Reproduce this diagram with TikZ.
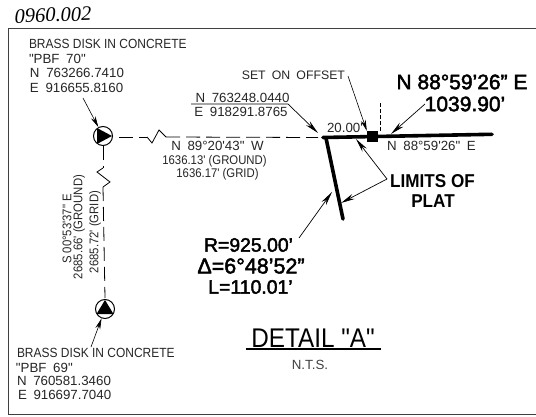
\documentclass[tikz,border=0pt]{standalone}
\usepackage{fontspec}
\setmainfont{Liberation Sans}
\newfontfamily\cad{Liberation Sans}[FakeStretch=0.9]
\newfontfamily\cadw{Liberation Sans}[WordSpace=1.8]
\newfontfamily\cadm{Liberation Sans}[FakeBold=2.2]
\newfontfamily\cadb{Liberation Sans Bold}[FakeStretch=0.92]
\newfontfamily\hand{Liberation Serif Italic}
\usetikzlibrary{arrows.meta}
\tikzset{
  x=1pt,y=-1pt,
  lab/.style={inner sep=0pt,outer sep=0pt,text=black!85,font=\cad\fontsize{13.3}{13}\selectfont},
  labsm/.style={lab,font=\cad\fontsize{12.6}{13}\selectfont},
  labw/.style={lab,font=\cadw\fontsize{13.3}{13}\selectfont},
  big/.style={inner sep=0pt,outer sep=0pt,font=\cadm\fontsize{21}{21}\selectfont},
  mid/.style={inner sep=0pt,outer sep=0pt,font=\cadm\fontsize{19.4}{20}\selectfont},
  heavy label/.style={inner sep=0pt,outer sep=0pt,font=\cadb\fontsize{18.6}{19}\selectfont},
  heavy/.style={line width=3.6pt,line cap=round},
  thin leader/.style={line width=.6pt,-{Stealth[length=11pt,width=5pt]}},
  long leader/.style={line width=.7pt,-{Stealth[length=14pt,width=5.5pt]}},
  dash line/.style={line width=.8pt,dash pattern=on 14pt off 6pt},
  zig/.style={line width=.8pt},
  disk/.style={circle,draw,line width=1pt,minimum size=19pt,inner sep=0pt},
}
\begin{document}
\begin{tikzpicture}
\useasboundingbox (0,0) rectangle (536,417);
\fill[white] (0,0) rectangle (536,417);
% frame
\draw[line width=1pt,black!75] (536,29) -- (8,29) -- (8,414) -- (536,414);
% handwritten number
\node[inner sep=0pt,rotate=2,font=\hand\fontsize{20.5}{20}\selectfont] (hw) at (53,15) {0960.002};
% coordinate labels
\node[lab,anchor=west] (t70a) at (29,44) {BRASS DISK IN CONCRETE};
\node[labw,anchor=west] (t70b) at (29,59) {"PBF 70"};
\node[labw,anchor=west] (t70c) at (30,73) {N 763266.7410};
\node[labw,anchor=west] (t70d) at (30,88) {E 916655.8160};
\node[lab,anchor=west] (t69a) at (17,353) {BRASS DISK IN CONCRETE};
\node[labw,anchor=west] (t69b) at (16,368) {"PBF 69"};
\node[labw,anchor=west] (t69c) at (17,381) {N 760581.3460};
\node[labw,anchor=west] (t69d) at (18,395) {E 916697.7040};
\node[labw,anchor=east,font=\cadw\fontsize{12.3}{13}\selectfont] (seto) at (345,75) {SET ON OFFSET};
\node[labw] (fn) at (242.5,98) {N 763248.0440};
\node[labw] (fe) at (241,112) {E 918291.8765};
\node[labw] (dist) at (345,128) {20.00'};
\node[labw] (n89) at (217.5,146) {N 89°20'43" W};
\node[labsm] (g1) at (214.5,161) {1636.13' (GROUND)};
\node[labsm] (g2) at (217.5,174) {1636.17' (GRID)};
\node[labsm,rotate=90] (s00) at (67,229) {S 00°53'37" E};
\node[labsm,rotate=90] (s1) at (79,227) {2685.66' (GROUND)};
\node[labsm,rotate=90] (s2) at (95,232) {2685.72' (GRID)};
\node[labw] (nsm) at (431.5,146) {N 88°59'26" E};
\node[big] (bn) at (462,82) {N 88°59’26” E};
\node[big] (bd) at (465,104) {1039.90’};
\node[heavy label] (lim1) at (432.5,181) {LIMITS OF};
\node[heavy label] (lim2) at (433,201) {PLAT};
\node[mid] (cr) at (248.5,245) {R=925.00’};
\node[mid,font=\cadm\fontsize{21.5}{22}\selectfont] (cd) at (251,266) {Δ=6°48’52”};
\node[mid] (cl) at (250.5,287) {L=110.01’};
\node[inner sep=0pt,font=\cad\fontsize{27}{27}\selectfont] (det) at (313,338) {DETAIL "A"};
\node[labw,text=black!75] (nts) at (310,365) {N.T.S.};
% monuments
\node[disk] (d70) at (103,136) {};
\fill (d70.center) ++(-6,-8) -- ++(15,8) -- ++(-15,8) -- cycle;
\node[disk] (d69) at (105,309) {};
\fill (d69.center) ++(-8.5,5) -- ++(8.5,-14) -- ++(8.5,14) -- cycle;
% reference points
\coordinate (pc) at (323,137.5);
\coordinate (pe) at (492,134.3);
\coordinate (pa) at (343,219);
\coordinate (h1) at (119,137);
\coordinate (h2) at (147,137);
\coordinate (hz1) at (152,143);
\coordinate (hz2) at (159,130);
\coordinate (h3) at (166,137);
\coordinate (h4) at (318,137.5);
\coordinate (v1) at (103,146);
\coordinate (v2) at (103,168);
\coordinate (vz1) at (97,172);
\coordinate (vz2) at (110,182);
\coordinate (v3) at (103,187);
\coordinate (v4) at (105,298);
\coordinate (sq) at (372.5,136.5);
\coordinate (tick) at (380,103);
\coordinate (tick2) at (380,131);
% survey lines
\draw[dash line] (h1) -- (h2);
\draw[zig] (h2) -- (hz1) -- (hz2) -- (h3);
\draw[dash line] (h3) -- (h4);
\draw[dash line] (v1) -- (v2);
\draw[zig] (v2) -- (vz1) -- (vz2) -- (v3);
\draw[dash line] (v3) -- (v4);
\draw[heavy] (pc) -- (pe);
\draw[heavy] (326,138) -- (pa);
\node[fill=black,minimum size=11pt,inner sep=0pt] (sqn) at (sq) {};
\draw[line width=.6pt,dash pattern=on 4pt off 2pt] (tick) -- (tick2);
% fraction rule and leaders
\coordinate (r1) at (191,104);
\coordinate (r2) at (288,104);
\coordinate (ft) at (318,133);
\draw[long leader] (r1) -- (r2) -- (ft);
\draw[thin leader] (83,98) -- (d70);
\draw[thin leader] (91,347) -- (d69);
\draw[thin leader] (348,76) -- (sqn.north west);
\coordinate (bdl) at (425,104);
\coordinate (bdt) at (391,134);
\draw[long leader] (bdl) -- (bdt);
\coordinate (lj) at (387,179);
\coordinate (lt1) at (356,139);
\coordinate (lt2) at (341,203);
\draw[long leader] (lj) -- (lt1);
\draw[long leader] (lj) -- (lt2);
\coordinate (cs) at (299,238);
\coordinate (ct) at (332,192);
\draw[long leader] (cs) -- (ct);
% title underline
\coordinate (u1) at (246,349);
\coordinate (u2) at (381,349);
\draw[line width=1.3pt] (u1) -- (u2);
\end{tikzpicture}
\end{document}
